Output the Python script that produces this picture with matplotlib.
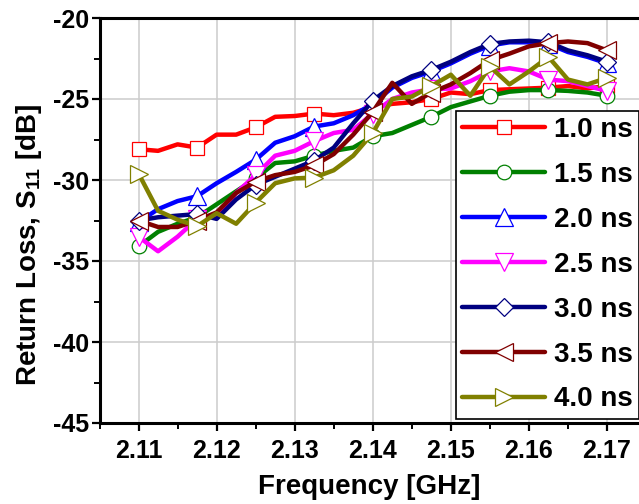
import numpy as np
import matplotlib
matplotlib.use("Agg")
import matplotlib.pyplot as plt
from matplotlib.ticker import MultipleLocator

plt.rcParams['font.family'] = ['Liberation Sans', 'DejaVu Sans']
plt.rcParams['font.weight'] = 'bold'
plt.rcParams['mathtext.fontset'] = 'custom'
plt.rcParams['mathtext.bf'] = 'Liberation Sans:bold'
plt.rcParams['mathtext.rm'] = 'Liberation Sans:bold'
plt.rcParams['mathtext.default'] = 'bf'
plt.rcParams['axes.unicode_minus'] = False

# Frequency sweep [GHz]
freq = [2.11, 2.1125, 2.115, 2.1175, 2.12, 2.1225, 2.125, 2.1275, 2.13,
        2.1325, 2.135, 2.1375, 2.14, 2.1425, 2.145, 2.1475, 2.15, 2.1525,
        2.155, 2.1575, 2.16, 2.1625, 2.165, 2.1675, 2.17]

# Return loss S11 [dB] for each pulse width
s11_1p0 = [-28.1, -28.2, -27.8, -28.0, -27.2, -27.2, -26.75, -26.1, -26.05,
           -25.9, -26.0, -25.85, -25.5, -25.3, -25.2, -25.0, -24.6, -24.7,
           -24.45, -24.4, -24.35, -24.3, -24.2, -24.35, -24.2]
s11_1p5 = [-34.1, -33.2, -32.7, -32.3, -31.5, -30.7, -29.9, -28.95, -28.85,
           -28.5, -28.2, -28.0, -27.3, -27.1, -26.6, -26.1, -25.5, -25.15,
           -24.8, -24.55, -24.45, -24.45, -24.5, -24.6, -24.8]
s11_2p0 = [-32.6, -31.8, -31.3, -31.0, -30.2, -29.5, -28.75, -27.7, -27.3,
           -26.7, -26.5, -26.0, -25.3, -24.3, -23.7, -23.3, -22.8, -22.2,
           -21.7, -21.5, -21.5, -21.6, -22.1, -22.4, -22.8]
s11_2p5 = [-33.5, -34.4, -33.5, -32.4, -32.2, -30.8, -29.7, -28.5, -28.2,
           -27.6, -27.1, -26.9, -25.9, -25.0, -24.6, -24.4, -24.35, -23.9,
           -23.3, -23.1, -23.3, -23.8, -23.9, -24.2, -24.5]
s11_3p0 = [-32.5, -32.3, -32.2, -32.1, -32.4, -31.2, -30.3, -29.8, -29.3,
           -28.8, -28.0, -26.5, -25.1, -24.2, -23.6, -23.2, -22.7, -22.1,
           -21.6, -21.45, -21.4, -21.5, -22.0, -22.3, -22.7]
s11_3p5 = [-32.5, -32.9, -32.9, -32.5, -32.0, -30.8, -30.1, -29.7, -29.5,
           -29.1, -28.4, -27.2, -25.8, -24.0, -25.3, -24.6, -24.1, -23.4,
           -22.6, -22.2, -21.75, -21.55, -21.45, -21.55, -22.0]
s11_4p0 = [-29.6, -31.9, -32.45, -32.85, -32.05, -32.7, -31.4, -30.2, -29.9,
           -29.85, -29.4, -28.5, -27.1, -25.0, -24.85, -24.2, -23.5, -24.8,
           -23.0, -24.1, -23.3, -22.4, -23.8, -24.1, -23.7]

labels = ['1.0 ns', '1.5 ns', '2.0 ns', '2.5 ns', '3.0 ns', '3.5 ns', '4.0 ns']
series = [s11_1p0, s11_1p5, s11_2p0, s11_2p5, s11_3p0, s11_3p5, s11_4p0]
colors = ['#FF0000', '#008000', '#0000FF', '#FF00FF', '#000080', '#800000', '#808000']
markers = ['s', 'o', '^', 'v', 'D', '<', '>']
msizes = [10.5, 10.5, 12.5, 12.5, 9.5, 12.5, 12.5]

fig = plt.figure(figsize=(6.39, 5.04), dpi=100)
ax = fig.add_axes([99.5 / 639, 1 - 423 / 504, 1 - 99.5 / 639, (423 - 18) / 504])

for y, lab, c, m, ms in zip(series, labels, colors, markers, msizes):
    ax.plot(freq, y, color=c, lw=3.2, marker=m, markersize=ms,
            markerfacecolor='white', markeredgecolor=c, markeredgewidth=0.9,
            markevery=3, label=lab, solid_joinstyle='round',
            solid_capstyle='round')

ax.set_xlim(2.105, 2.1741)
ax.set_ylim(-45, -20)
ax.xaxis.set_major_locator(MultipleLocator(0.01))
ax.xaxis.set_minor_locator(MultipleLocator(0.005))
ax.yaxis.set_major_locator(MultipleLocator(5))
ax.yaxis.set_minor_locator(MultipleLocator(2.5))
ax.xaxis.set_major_formatter(matplotlib.ticker.FormatStrFormatter('%.2f'))
ax.grid(True, which='major', color='#cccccc', lw=1.1)
ax.set_axisbelow(True)

for side in ['left', 'bottom', 'top']:
    ax.spines[side].set_linewidth(2.2)
ax.spines['right'].set_visible(False)
ax.tick_params(which='major', direction='out', length=5.5, width=1.6,
               labelsize=18, pad=2)
ax.tick_params(which='minor', direction='out', length=4, width=1.4)
ax.tick_params(axis='x', which='major', pad=6)

ax.set_xlabel('Frequency [GHz]', fontsize=20, fontweight='bold', labelpad=8)
ax.set_ylabel(r'Return Loss, S$_{11}$ [dB]', fontsize=20, fontweight='bold')
ax.yaxis.set_label_coords(-0.103, 0.44)

leg = ax.legend(loc='upper left', bbox_to_anchor=(456 / 639, 1 - 111 / 504),
                bbox_transform=fig.transFigure, borderaxespad=0,
                prop={'size': 20, 'weight': 'bold'}, numpoints=1,
                handlelength=3.0, handletextpad=0.3, labelspacing=0.68,
                borderpad=0.22, fancybox=False, framealpha=1, edgecolor='black')
leg.get_frame().set_linewidth(1.2)

fig.savefig('out.png', dpi=100)
